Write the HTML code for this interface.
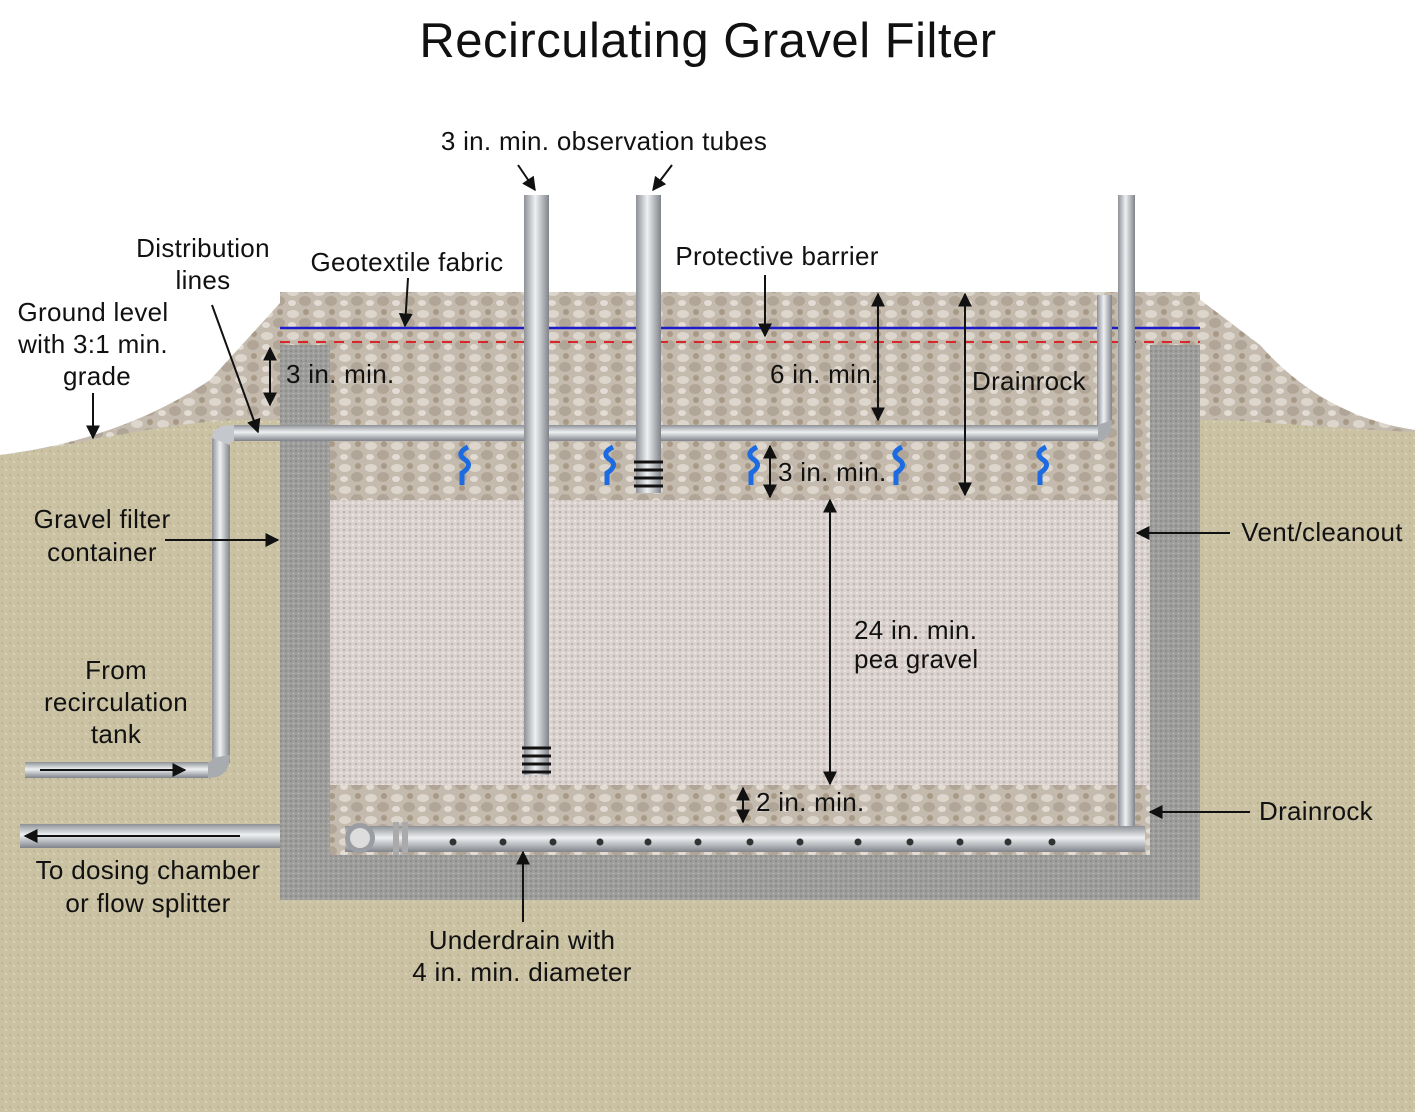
<!DOCTYPE html>
<html><head><meta charset="utf-8"><style>
body{margin:0;width:1415px;height:1112px;overflow:hidden;background:#fff;font-family:"Liberation Sans",sans-serif}
svg{display:block}
text{font-family:"Liberation Sans",sans-serif;font-size:26px;letter-spacing:0.3px;fill:#111}
</style></head><body>
<svg width="1415" height="1112" viewBox="0 0 1415 1112">
<defs>
<linearGradient id="pv" x1="0" x2="1"><stop offset="0" stop-color="#8d9196"/><stop offset=".45" stop-color="#eef0f2"/><stop offset="1" stop-color="#80848a"/></linearGradient>
<linearGradient id="ph" x1="0" x2="0" y1="0" y2="1"><stop offset="0" stop-color="#8d9196"/><stop offset=".45" stop-color="#eef0f2"/><stop offset="1" stop-color="#80848a"/></linearGradient>
<pattern id="gr" width="26" height="22" patternUnits="userSpaceOnUse"><rect width="26" height="22" fill="#c4bbae"/><ellipse cx="7" cy="6" rx="6" ry="4" fill="#ddd6cc"/><ellipse cx="19" cy="15" rx="6" ry="5" fill="#b0a596"/><ellipse cx="20" cy="4" rx="3" ry="3" fill="#a89a86"/><ellipse cx="6" cy="17" rx="4" ry="3" fill="#e2dcd4"/></pattern>
<pattern id="pea" width="6" height="6" patternUnits="userSpaceOnUse"><rect width="6" height="6" fill="#dbd3cf"/><circle cx="2" cy="2" r="1.3" fill="#c2b5b1"/><circle cx="5" cy="5" r="1" fill="#eee8e6"/></pattern>
<pattern id="con" width="5" height="5" patternUnits="userSpaceOnUse"><rect width="5" height="5" fill="#9d9d9b"/><circle cx="1" cy="1" r=".8" fill="#7a7a78"/><circle cx="3.5" cy="3.5" r=".8" fill="#b8b8b6"/></pattern>
<pattern id="soil" width="8" height="8" patternUnits="userSpaceOnUse"><rect width="8" height="8" fill="#cac2a3"/><circle cx="2" cy="3" r="1" fill="#b6ad8f"/><circle cx="6" cy="6" r="1" fill="#dbd5bd"/></pattern>
<marker id="ar" viewBox="0 0 10 10" refX="9" refY="5" markerWidth="7" markerHeight="7" orient="auto-start-reverse"><path d="M0,0L10,5L0,10z" fill="#111"/></marker>
</defs>
<path d="M0,455 C80,445 150,420 210,380 L290,292 L1190,292 L1260,345 C1300,390 1350,420 1415,430 L1415,1112 L0,1112Z" fill="url(#gr)"/>
<path d="M0,455 C80,445 150,425 230,420 L1230,420 C1300,425 1360,430 1415,432 L1415,1112 L0,1112Z" fill="url(#soil)"/>
<rect x="280" y="345" width="920" height="555" fill="url(#con)"/>
<rect x="330" y="345" width="820" height="155" fill="url(#gr)"/>
<rect x="330" y="500" width="820" height="285" fill="url(#pea)"/>
<rect x="330" y="785" width="820" height="70" fill="url(#gr)"/>
<rect x="280" y="292" width="920" height="53" fill="url(#gr)"/>
<line x1="280" y1="328" x2="1200" y2="328" stroke="#1c1cc8" stroke-width="2.5"/>
<line x1="280" y1="342" x2="1200" y2="342" stroke="#d8262a" stroke-width="2" stroke-dasharray="10,8"/>
<rect x="232" y="425" width="870" height="16" fill="url(#ph)"/>
<rect x="212" y="438" width="18" height="325" fill="url(#pv)"/>
<path d="M212,438 q0,-13 22,-13 v16 q-4,0 -4,4z" fill="#c4c7cb"/>
<rect x="25" y="762" width="185" height="16" fill="url(#ph)"/>
<path d="M230,755 q0,23 -22,23 v-16 q4,0 4,-4z" fill="#a8abaf"/>
<rect x="1097" y="295" width="15" height="130" fill="url(#pv)"/>
<path d="M1112,420 q0,21 -14,21 v-16z" fill="#a8abaf"/>
<rect x="524" y="195" width="25" height="580" fill="url(#pv)"/>
<rect x="636" y="195" width="25" height="298" fill="url(#pv)"/>
<g stroke="#111" stroke-width="3"><line x1="522" y1="748" x2="551" y2="748"/><line x1="522" y1="756" x2="551" y2="756"/><line x1="522" y1="764" x2="551" y2="764"/><line x1="522" y1="772" x2="551" y2="772"/>
<line x1="634" y1="462" x2="663" y2="462"/><line x1="634" y1="470" x2="663" y2="470"/><line x1="634" y1="478" x2="663" y2="478"/><line x1="634" y1="486" x2="663" y2="486"/></g>
<rect x="1118" y="195" width="17" height="635" fill="url(#pv)"/>
<rect x="345" y="826" width="800" height="26" fill="url(#ph)"/>
<circle cx="360" cy="838" r="15" fill="#9a9da1"/><circle cx="360" cy="838" r="10" fill="#ddd"/>
<rect x="393" y="822" width="6" height="33" fill="#aaa"/><rect x="402" y="822" width="6" height="33" fill="#aaa"/>
<g fill="#333"><circle cx="453" cy="842" r="3.5"/><circle cx="503" cy="842" r="3.5"/><circle cx="553" cy="842" r="3.5"/><circle cx="600" cy="842" r="3.5"/><circle cx="648" cy="842" r="3.5"/><circle cx="698" cy="842" r="3.5"/><circle cx="750" cy="842" r="3.5"/><circle cx="800" cy="842" r="3.5"/><circle cx="858" cy="842" r="3.5"/><circle cx="910" cy="842" r="3.5"/><circle cx="960" cy="842" r="3.5"/><circle cx="1008" cy="842" r="3.5"/><circle cx="1052" cy="842" r="3.5"/></g>
<rect x="20" y="824" width="260" height="24" fill="url(#ph)"/>
<g fill="none" stroke="#1c6be0" stroke-width="5">
<path d="M468,447 q-12,6 -4,12 q10,6 -2,14 l0,12"/><path d="M613,447 q-12,6 -4,12 q10,6 -2,14 l0,12"/><path d="M757,447 q-12,6 -4,12 q10,6 -2,14 l0,12"/><path d="M902,447 q-12,6 -4,12 q10,6 -2,14 l0,12"/><path d="M1046,447 q-12,6 -4,12 q10,6 -2,14 l0,12"/></g>
<g stroke="#111" stroke-width="2" fill="none" marker-end="url(#ar)">
<line x1="518" y1="165" x2="535" y2="190"/><line x1="672" y1="165" x2="653" y2="190"/>
<line x1="408" y1="278" x2="405" y2="326"/><line x1="765" y1="275" x2="765" y2="336"/>
<line x1="212" y1="305" x2="258" y2="432"/><line x1="93" y1="393" x2="93" y2="438"/>
<line x1="165" y1="540" x2="278" y2="540"/><line x1="1230" y1="533" x2="1137" y2="533"/>
<line x1="1250" y1="812" x2="1150" y2="812"/><line x1="523" y1="922" x2="523" y2="852"/>
<line x1="40" y1="770" x2="185" y2="770"/><line x1="240" y1="836" x2="25" y2="836"/>
</g>
<g stroke="#111" stroke-width="2" fill="none" marker-end="url(#ar)" marker-start="url(#ar)">
<line x1="270" y1="348" x2="270" y2="405"/><line x1="878" y1="294" x2="878" y2="420"/>
<line x1="965" y1="294" x2="965" y2="495"/><line x1="770" y1="446" x2="770" y2="497"/>
<line x1="830" y1="500" x2="830" y2="784"/><line x1="743" y1="788" x2="743" y2="822"/>
</g>
<text x="708" y="57" text-anchor="middle" style="font-size:49px;letter-spacing:0.5px">Recirculating Gravel Filter</text>
<text x="604" y="150" text-anchor="middle">3 in. min. observation tubes</text>
<text x="203" y="257" text-anchor="middle">Distribution</text><text x="203" y="289" text-anchor="middle">lines</text>
<text x="407" y="271" text-anchor="middle">Geotextile fabric</text>
<text x="777" y="265" text-anchor="middle">Protective barrier</text>
<text x="93" y="321" text-anchor="middle">Ground level</text><text x="93" y="353" text-anchor="middle">with 3:1 min.</text><text x="97" y="385" text-anchor="middle">grade</text>
<text x="286" y="383">3 in. min.</text>
<text x="770" y="383">6 in. min.</text>
<text x="972" y="390">Drainrock</text>
<text x="778" y="481">3 in. min.</text>
<text x="102" y="528" text-anchor="middle">Gravel filter</text><text x="102" y="561" text-anchor="middle">container</text>
<text x="1322" y="541" text-anchor="middle">Vent/cleanout</text>
<text x="854" y="639">24 in. min.</text><text x="854" y="668">pea gravel</text>
<text x="116" y="679" text-anchor="middle">From</text><text x="116" y="711" text-anchor="middle">recirculation</text><text x="116" y="743" text-anchor="middle">tank</text>
<text x="756" y="811">2 in. min.</text>
<text x="1316" y="820" text-anchor="middle">Drainrock</text>
<text x="148" y="879" text-anchor="middle">To dosing chamber</text><text x="148" y="912" text-anchor="middle">or flow splitter</text>
<text x="522" y="949" text-anchor="middle">Underdrain with</text><text x="522" y="981" text-anchor="middle">4 in. min. diameter</text>
</svg>
</body></html>
